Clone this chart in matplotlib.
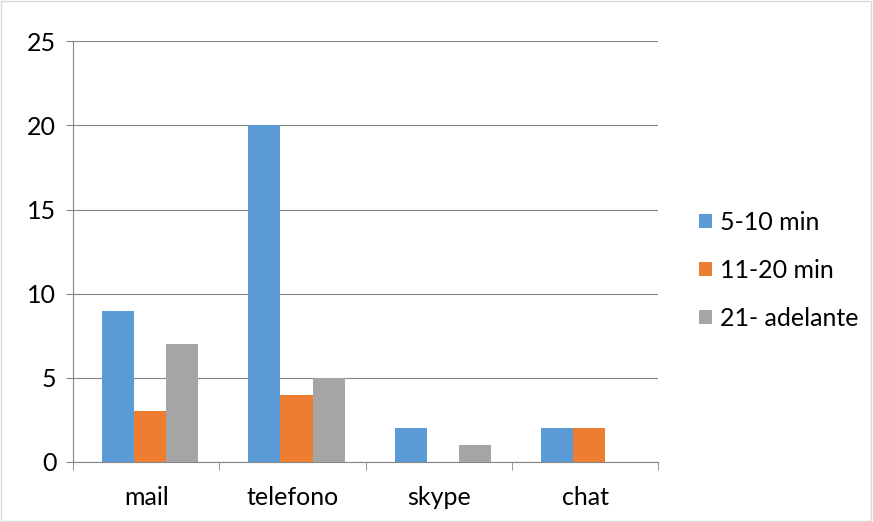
import matplotlib
matplotlib.use('Agg')
import matplotlib.pyplot as plt
import numpy as np

plt.rcParams['font.family'] = ['Lato', 'DejaVu Sans']

# Data
categories = ['mail', 'telefono', 'skype', 'chat']
series_names = ['5-10 min', '11-20 min', '21- adelante']
v_5_10 = [9, 20, 2, 2]
v_11_20 = [3, 4, 0, 2]
v_21_up = [7, 5, 1, 0]
colors = ['#5B9BD5', '#ED7D31', '#A5A5A5']

fig = plt.figure(figsize=(8.73, 5.22), dpi=100)
ax = fig.add_axes([0.0836, 0.115, 0.6703, 0.806])

x = np.arange(len(categories))
w = 0.219
off = 0.028
for i, (vals, name) in enumerate(zip([v_5_10, v_11_20, v_21_up], series_names)):
    ax.bar(x + off + (i - 1) * w, vals, width=w, color=colors[i], label=name, zorder=3)

ax.set_xlim(-0.5, 3.5)
ax.set_ylim(0, 25)
ax.set_yticks(range(0, 26, 5))
ax.grid(axis='y', color='#868686', linewidth=0.8, zorder=0)
ax.set_xticks(x)
ax.set_xticklabels(categories)
ax.set_xticks(np.arange(-0.5, 4, 1), minor=True)
ax.tick_params(axis='x', which='major', length=0, pad=17, labelsize=18)
ax.tick_params(axis='x', which='minor', length=6, color='#868686')
ax.tick_params(axis='y', length=5, color='#868686', labelsize=18, pad=7)

for s in ['top', 'right']:
    ax.spines[s].set_visible(False)
for s in ['left', 'bottom']:
    ax.spines[s].set_color('#868686')
    ax.spines[s].set_linewidth(0.8)

ax.legend(loc='center left', bbox_to_anchor=(1.07, 0.456), frameon=False,
          fontsize=18, handlelength=0.5, handleheight=0.5, labelspacing=1.0,
          handletextpad=0.35, borderpad=0, borderaxespad=0)

fig.add_artist(plt.Rectangle((0.001, 0.002), 0.997, 0.996, transform=fig.transFigure,
                             fill=False, edgecolor='#D9D9D9', linewidth=1))

fig.savefig('out.png', dpi=100)
